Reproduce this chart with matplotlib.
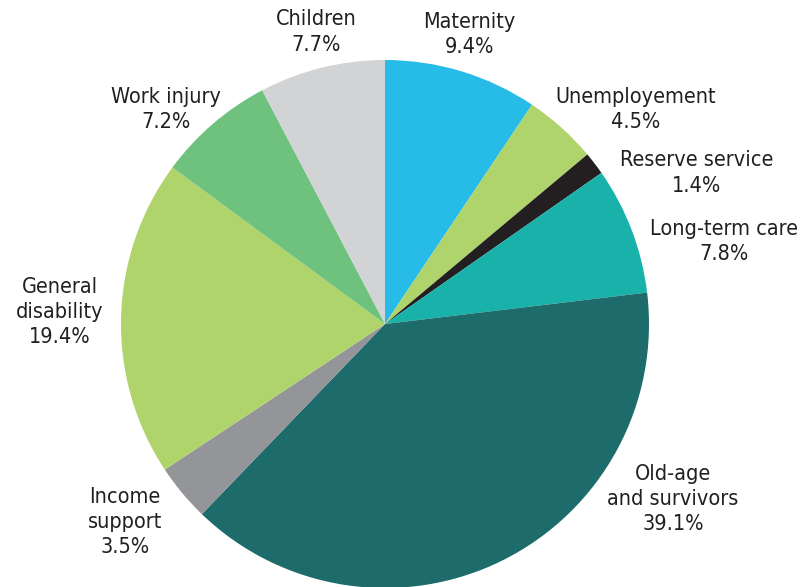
import matplotlib.pyplot as plt

# data
labels = ["Maternity", "Unemployement", "Reserve service", "Long-term care",
          "Old-age\nand survivors", "Income\nsupport", "General\ndisability",
          "Work injury", "Children"]
shares = [9.4, 4.5, 1.4, 7.8, 39.1, 3.5, 19.4, 7.2, 7.7]
colors = ["#27BBE8", "#B0D46C", "#231F20", "#19B2AB", "#1E6B6B",
          "#939598", "#B0D46C", "#6FC17E", "#D1D3D4"]

# label positions in pie units (radius = 1)
label_pos = [(0.318, 1.098), (0.951, 0.811), (1.182, 0.572), (1.284, 0.311),
             (1.091, -0.663), (-0.985, -0.750), (-1.231, 0.045),
             (-0.830, 0.811), (-0.261, 1.106)]

W, H = 808, 587
cx, cy, r = 385, 324, 264

fig = plt.figure(figsize=(W / 100, H / 100), dpi=100)
ax = fig.add_axes([(cx - r) / W, (H - cy - r) / H, 2 * r / W, 2 * r / H])

ax.pie(shares, colors=colors, startangle=90, counterclock=False, radius=1,
       wedgeprops=dict(linewidth=0))
ax.set_xlim(-1, 1)
ax.set_ylim(-1, 1)
ax.set_aspect("equal")
ax.axis("off")

for lab, val, (x, y) in zip(labels, shares, label_pos):
    ax.text(x, y, f"{lab}\n{val:.1f}%", ha="center", va="center",
            fontsize=15.5, color="#231F20", fontstretch="condensed",
            linespacing=1.32, clip_on=False)

fig.savefig("out.png", dpi=100)
